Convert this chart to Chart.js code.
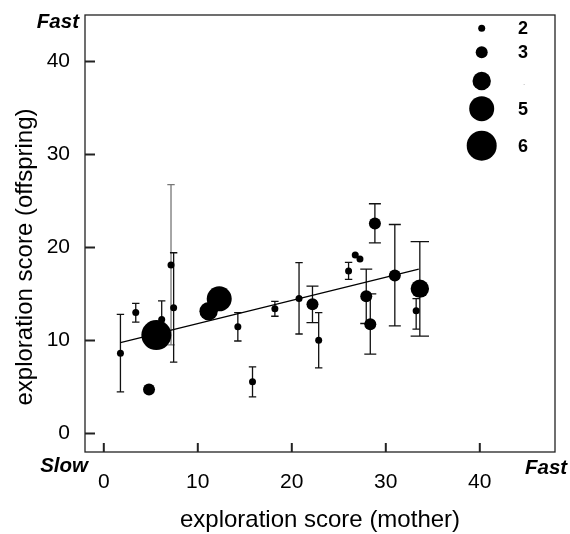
<!DOCTYPE html>
<html>
<head>
<meta charset="utf-8">
<script src="https://cdn.jsdelivr.net/npm/chart.js@4/dist/chart.umd.min.js"></script>
<style>
  html, body { margin: 0; padding: 0; background: #fff; }
  #wrap { width: 570px; height: 534px; }
</style>
</head>
<body>
<div id="wrap"><canvas id="scoreChart" width="570" height="534"></canvas></div>
<script>
// values
const momScore = [1.77, 3.40, 5.59, 4.81, 6.16, 7.15, 7.43, 11.15, 12.28, 14.26, 15.82, 18.20,
  20.77, 22.20, 22.86, 26.04, 26.75, 27.25, 27.92, 28.35, 28.84, 30.96, 33.62, 33.23];
const offspringScore = [8.63, 12.99, 10.58, 4.71, 12.24, 18.12, 13.52, 13.13, 14.47, 11.46, 5.56, 13.40,
  14.51, 13.89, 10.01, 17.48, 19.18, 18.75, 14.76, 11.75, 22.58, 16.99, 15.57, 13.18];
const broodCount = [2, 2, 6, 3, 2, 2, 2, 4, 5, 2, 2, 2, 2, 3, 2, 2, 2, 2, 3, 3, 3, 3, 4, 2];
const errLow = [4.46, 11.96, null, null, 10.6, 9.52, 7.66, null, null, 9.94, 3.93, 12.60,
  10.69, 11.92, 7.04, 16.56, null, null, 11.82, 8.53, 20.49, 11.57, 10.47, 11.22];
const errHigh = [12.81, 13.98, null, null, 14.26, 26.75, 19.43, null, null, 12.99, 7.15, 14.19,
  18.37, 15.84, 12.99, 18.40, null, null, 17.66, 15.0, 24.70, 22.47, 20.63, 14.5];
const fitX = [1.77, 33.51];
const fitY = [9.77, 17.66];
const xTicks = [0, 10, 20, 30, 40];
const yTicks = [0, 10, 20, 30, 40];
const legendSizes = [2, 3, 4, 5, 6];
const legendLabels = ["2", "3", ".", "5", "6"];

const FONT = "'Liberation Sans', Arial, sans-serif";
const radiusFor = { 2: 3.5, 3: 6, 4: 9.2, 5: 12.5, 6: 15 };

const frameAndBars = {
  id: "frameAndBars",
  beforeDatasetsDraw(chart) {
    const { ctx, chartArea: a, scales: { x, y } } = chart;
    ctx.save();
    // error bars
    for (let i = 0; i < momScore.length; i++) {
      if (errLow[i] == null) continue;
      const px = x.getPixelForValue(momScore[i]);
      const lo = y.getPixelForValue(errLow[i]);
      const hi = y.getPixelForValue(errHigh[i]);
      const hw = Math.max(3.7, radiusFor[broodCount[i]]);
      ctx.strokeStyle = i === 5 ? "#777" : "#111";
      ctx.lineWidth = 1.3;
      ctx.beginPath();
      ctx.moveTo(px, lo); ctx.lineTo(px, hi);
      ctx.moveTo(px - hw, lo); ctx.lineTo(px + hw, lo);
      ctx.moveTo(px - hw, hi); ctx.lineTo(px + hw, hi);
      ctx.stroke();
    }
    // frame
    ctx.strokeStyle = "#222";
    ctx.lineWidth = 1.3;
    ctx.strokeRect(a.left, a.top, a.right - a.left, a.bottom - a.top);
    // inward ticks
    ctx.lineWidth = 2;
    ctx.beginPath();
    yTicks.forEach(v => {
      const py = y.getPixelForValue(v);
      ctx.moveTo(a.left, py); ctx.lineTo(a.left + 10, py);
    });
    xTicks.forEach(v => {
      const px = x.getPixelForValue(v);
      ctx.moveTo(px, a.bottom); ctx.lineTo(px, a.bottom - 9);
    });
    ctx.stroke();
    ctx.restore();
  },
  afterDraw(chart) {
    const { ctx, chartArea: a } = chart;
    ctx.save();
    ctx.fillStyle = "#000";
    // legend
    const legY = [13.3, 37.3, 66, 93.7, 130.7];
    legendSizes.forEach((s, i) => {
      ctx.beginPath();
      ctx.arc(a.left + 396.7, a.top + legY[i], radiusFor[s], 0, Math.PI * 2);
      ctx.fill();
      ctx.font = "bold 18px " + FONT;
      ctx.textBaseline = "middle";
      ctx.textAlign = "left";
      if (legendLabels[i] === ".") {
        ctx.fillStyle = "#999";
        ctx.font = "8px " + FONT;
        ctx.fillText(legendLabels[i], a.left + 438, a.top + legY[i] + 2);
        ctx.fillStyle = "#000";
      } else {
        ctx.fillText(legendLabels[i], a.left + 433, a.top + legY[i] + 1);
      }
    });
    // Slow / Fast
    ctx.font = "italic bold 20.5px " + FONT;
    ctx.textBaseline = "alphabetic";
    ctx.textAlign = "right";
    ctx.fillText("Fast", 79, 27.5);
    ctx.fillText("Slow", 88, 472);
    ctx.textAlign = "left";
    ctx.fillText("Fast", 525, 474);
    // axis titles
    ctx.font = "24px " + FONT;
    ctx.textAlign = "center";
    ctx.fillText("exploration score (mother)", (a.left + a.right) / 2, 527);
    ctx.translate(32, 257);
    ctx.rotate(-Math.PI / 2);
    ctx.fillText("exploration score (offspring)", 0, 0);
    ctx.restore();
  }
};

new Chart(document.getElementById("scoreChart"), {
  type: "scatter",
  data: {
    datasets: [
      {
        label: "broods",
        data: momScore.map((v, i) => ({ x: v, y: offspringScore[i] })),
        backgroundColor: "#000",
        borderWidth: 0,
        pointRadius: c => radiusFor[broodCount[c.dataIndex]],
        pointHoverRadius: c => radiusFor[broodCount[c.dataIndex]],
        order: 1
      },
      {
        type: "line",
        label: "fit",
        data: fitX.map((v, i) => ({ x: v, y: fitY[i] })),
        borderColor: "#000",
        borderWidth: 1.2,
        pointRadius: 0,
        fill: false,
        order: 2
      }
    ]
  },
  options: {
    responsive: false,
    animation: false,
    events: [],
    layout: { padding: { left: 0, top: 10, right: 13, bottom: 0 } },
    plugins: { legend: { display: false }, tooltip: { enabled: false } },
    scales: {
      x: {
        type: "linear",
        min: -2, max: 48,
        grid: { display: false, drawTicks: false },
        border: { display: false },
        afterBuildTicks: s => { s.ticks = xTicks.map(v => ({ value: v })); },
        afterFit: s => { s.height = 82; s.paddingLeft = 0; s.paddingRight = 0; },
        ticks: { color: "#000", padding: 18, font: { family: FONT, size: 21 }, maxRotation: 0 }
      },
      y: {
        type: "linear",
        min: -2, max: 45,
        grid: { display: false, drawTicks: false },
        border: { display: false },
        afterBuildTicks: s => { s.ticks = yTicks.map(v => ({ value: v })); },
        afterFit: s => { s.width = 85; s.paddingTop = 0; s.paddingBottom = 0; },
        ticks: { color: "#000", padding: 15, font: { family: FONT, size: 21 } }
      }
    }
  },
  plugins: [frameAndBars]
});
</script>
</body>
</html>
